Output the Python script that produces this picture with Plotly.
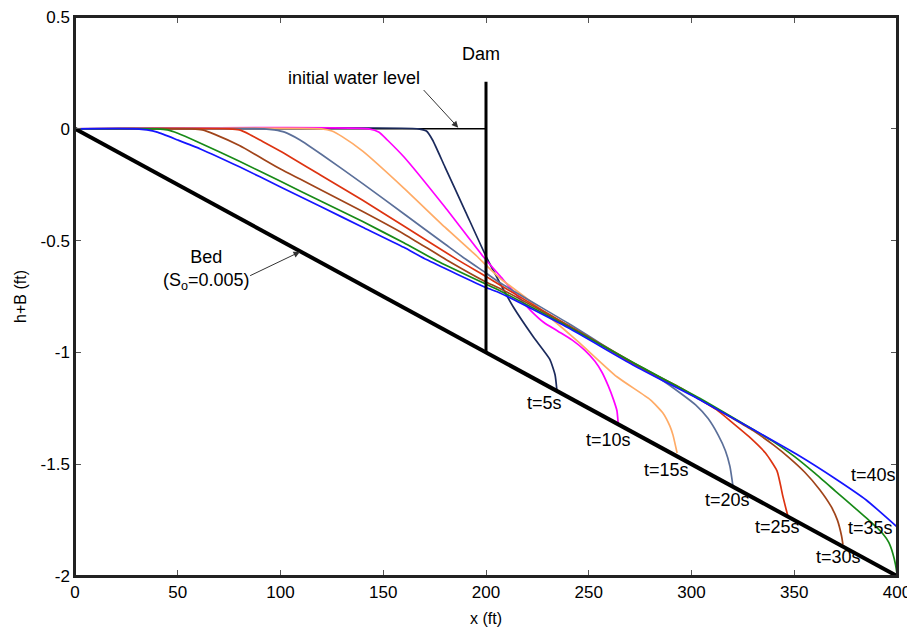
import plotly.graph_objects as go

# ---------------- data ----------------
times = ["t=5s", "t=10s", "t=15s", "t=20s", "t=25s", "t=30s", "t=35s", "t=40s"]
colors = ["#1b2a5c", "#ff00ff", "#ffab66", "#5b6f99", "#dd3311", "#a0441a", "#178a17", "#1515ff"]

t5_x = [0, 167, 171, 174, 180, 190, 200.5, 206.8, 213.3, 223, 231, 233.6, 234.5]
t5_y = [0, 0, -0.01, -0.05, -0.17, -0.37, -0.58, -0.69, -0.797, -0.93, -1.03, -1.10, -1.17]

t10_x = [0, 143, 148, 152, 160, 180, 198.5, 207, 215, 222, 228, 235, 242, 248, 253, 256.5, 259.5, 262, 263.7, 264.3]
t10_y = [0, 0, -0.015, -0.05, -0.125, -0.35, -0.57, -0.66, -0.745, -0.815, -0.865, -0.905, -0.945, -0.99, -1.04, -1.09, -1.15, -1.21, -1.26, -1.315]

t15_x = [0, 120, 125, 130, 140, 160, 180, 195.6, 200, 207, 220, 244, 263.7, 280, 286, 289.5, 291, 293]
t15_y = [0, 0, -0.01, -0.035, -0.10, -0.265, -0.44, -0.57, -0.61, -0.67, -0.76, -0.945, -1.109, -1.212, -1.27, -1.33, -1.37, -1.45]

t20_x = [0, 92, 97, 102, 109.5, 120, 140, 160, 180, 190.7, 200, 207, 240, 271.5, 285, 295, 302, 308, 313, 316.5, 318.7, 320.2]
t20_y = [0, 0, -0.005, -0.015, -0.05, -0.115, -0.245, -0.38, -0.515, -0.587, -0.645, -0.69, -0.87, -1.05, -1.12, -1.185, -1.235, -1.295, -1.37, -1.44, -1.51, -1.60]

t25_x = [0, 75, 80, 85, 90, 100, 120, 140, 160, 186, 200, 207, 240, 271.5, 295, 304, 312, 320, 328, 336, 341.6, 344.5, 346, 347]
t25_y = [0, 0, -0.005, -0.025, -0.05, -0.10, -0.21, -0.32, -0.435, -0.585, -0.66, -0.70, -0.88, -1.05, -1.16, -1.21, -1.255, -1.315, -1.377, -1.45, -1.53, -1.645, -1.70, -1.735]

t30_x = [0, 57, 62, 68, 80, 100, 109.5, 120, 140, 160, 181.5, 200, 207, 240, 271.5, 304, 320, 330, 340, 348, 355, 362.5, 368, 371, 373, 373.7]
t30_y = [0, 0, -0.005, -0.025, -0.075, -0.18, -0.225, -0.275, -0.37, -0.47, -0.59, -0.685, -0.715, -0.88, -1.045, -1.21, -1.295, -1.35, -1.415, -1.475, -1.535, -1.615, -1.69, -1.75, -1.82, -1.86]

t35_x = [0, 40, 45, 50, 60, 80, 100, 120, 140, 160, 176, 200, 207, 240, 271.5, 304, 330, 340, 350, 360, 370, 380, 388, 393, 396, 398, 399.3, 400]
t35_y = [0, 0, -0.005, -0.02, -0.06, -0.145, -0.235, -0.325, -0.415, -0.51, -0.59, -0.695, -0.725, -0.885, -1.045, -1.205, -1.345, -1.40, -1.465, -1.54, -1.62, -1.70, -1.765, -1.81, -1.85, -1.90, -1.95, -1.99]

t40_x = [0, 30, 35, 40, 50, 61, 80, 100, 120, 140, 160, 171, 200, 206.8, 240, 271.5, 304, 330, 352, 370, 385, 400]
t40_y = [0, 0, -0.005, -0.015, -0.05, -0.09, -0.17, -0.26, -0.35, -0.44, -0.53, -0.585, -0.71, -0.734, -0.89, -1.056, -1.212, -1.345, -1.46, -1.565, -1.66, -1.78]

curves_x = [t5_x, t10_x, t15_x, t20_x, t25_x, t30_x, t35_x, t40_x]
curves_y = [t5_y, t10_y, t15_y, t20_y, t25_y, t30_y, t35_y, t40_y]

bed_x = [0, 400]
bed_y = [0, -2]
dam_x = [200, 200]
dam_y = [-1, 0.21]
init_x = [0, 200]
init_y = [0, 0]

# label positions (data coords)
label_x = [228.7, 259.4, 288, 317.3, 342, 371.3, 386.9, 388.8]
label_y = [-1.225, -1.39, -1.525, -1.658, -1.78, -1.917, -1.784, -1.547]

x_range = [0, 400]
y_range = [-2, 0.5]
xticks = [0, 50, 100, 150, 200, 250, 300, 350, 400]
yticks = [0.5, 0, -0.5, -1, -1.5, -2]
yticklabels = ["0.5", "0", "-0.5", "-1", "-1.5", "-2"]

FONT = "Arial, Liberation Sans, sans-serif"
AFS = 18

fig = go.Figure()

# initial water level (under curves)
fig.add_trace(go.Scatter(x=init_x, y=init_y, mode="lines",
                         line=dict(color="black", width=1.6), hoverinfo="skip"))

for cx, cy, col in zip(curves_x, curves_y, colors):
    fig.add_trace(go.Scatter(x=cx, y=cy, mode="lines",
                             line=dict(color=col, width=1.7, shape="spline", smoothing=0.5)))

# bed
fig.add_trace(go.Scatter(x=bed_x, y=bed_y, mode="lines",
                         line=dict(color="black", width=4)))
# dam
fig.add_trace(go.Scatter(x=dam_x, y=dam_y, mode="lines",
                         line=dict(color="black", width=3)))

annotations = []
for lx, ly, txt in zip(label_x, label_y, times):
    annotations.append(dict(x=lx, y=ly, xref="x", yref="y", text=txt, showarrow=False,
                            font=dict(family=FONT, size=AFS, color="black")))

annotations.append(dict(x=197.5, y=0.335, xref="x", yref="y", text="Dam", showarrow=False,
                        font=dict(family=FONT, size=AFS, color="black")))
annotations.append(dict(x=136, y=0.225, xref="x", yref="y", text="initial water level",
                        showarrow=False, font=dict(family=FONT, size=AFS, color="black")))
annotations.append(dict(x=186.5, y=0.005, xref="x", yref="y", ax=169, ay=0.18,
                        axref="x", ayref="y", text="", showarrow=True, arrowhead=2,
                        arrowsize=1.3, arrowwidth=1, arrowcolor="#333"))
annotations.append(dict(x=64, y=-0.63, xref="x", yref="y",
                        text="Bed<br>(S<sub>o</sub>=0.005)", showarrow=False,
                        font=dict(family=FONT, size=AFS, color="black")))
annotations.append(dict(x=109.5, y=-0.55, xref="x", yref="y", ax=84.5, ay=-0.66,
                        axref="x", ayref="y", text="", showarrow=True, arrowhead=2,
                        arrowsize=1.3, arrowwidth=1, arrowcolor="#333"))

axis_common = dict(ticks="inside", ticklen=6, tickcolor="#555", tickwidth=1,
                   showline=True, linecolor="#222", linewidth=1.5, mirror="ticks",
                   showgrid=False, zeroline=False, automargin=False,
                   ticklabeloverflow="allow", tickfont=dict(size=17))

# page body has an 8px default margin: compensate so the plot area lands on
# left 75, right 897, top 17, bottom 576 of the 915x630 window
fig.update_layout(
    width=907, height=622,
    margin=dict(l=67, r=18, t=9, b=54, autoexpand=False),
    paper_bgcolor="white", plot_bgcolor="white",
    showlegend=False,
    font=dict(family=FONT, size=17, color="black"),
    annotations=annotations,
    shapes=[dict(type="rect", xref="x domain", yref="y domain", x0=0, x1=1, y0=0, y1=1,
                 line=dict(color="#222", width=2), fillcolor="rgba(0,0,0,0)",
                 layer="above")],
    xaxis=dict(range=x_range, tickvals=xticks,
               title=dict(text="x (ft)", font=dict(size=16), standoff=12),
               **axis_common),
    yaxis=dict(range=y_range, tickvals=yticks, ticktext=yticklabels,
               title=dict(text="h+B (ft)", font=dict(size=16), standoff=10),
               **axis_common),
)

fig.write_html("out.html")
